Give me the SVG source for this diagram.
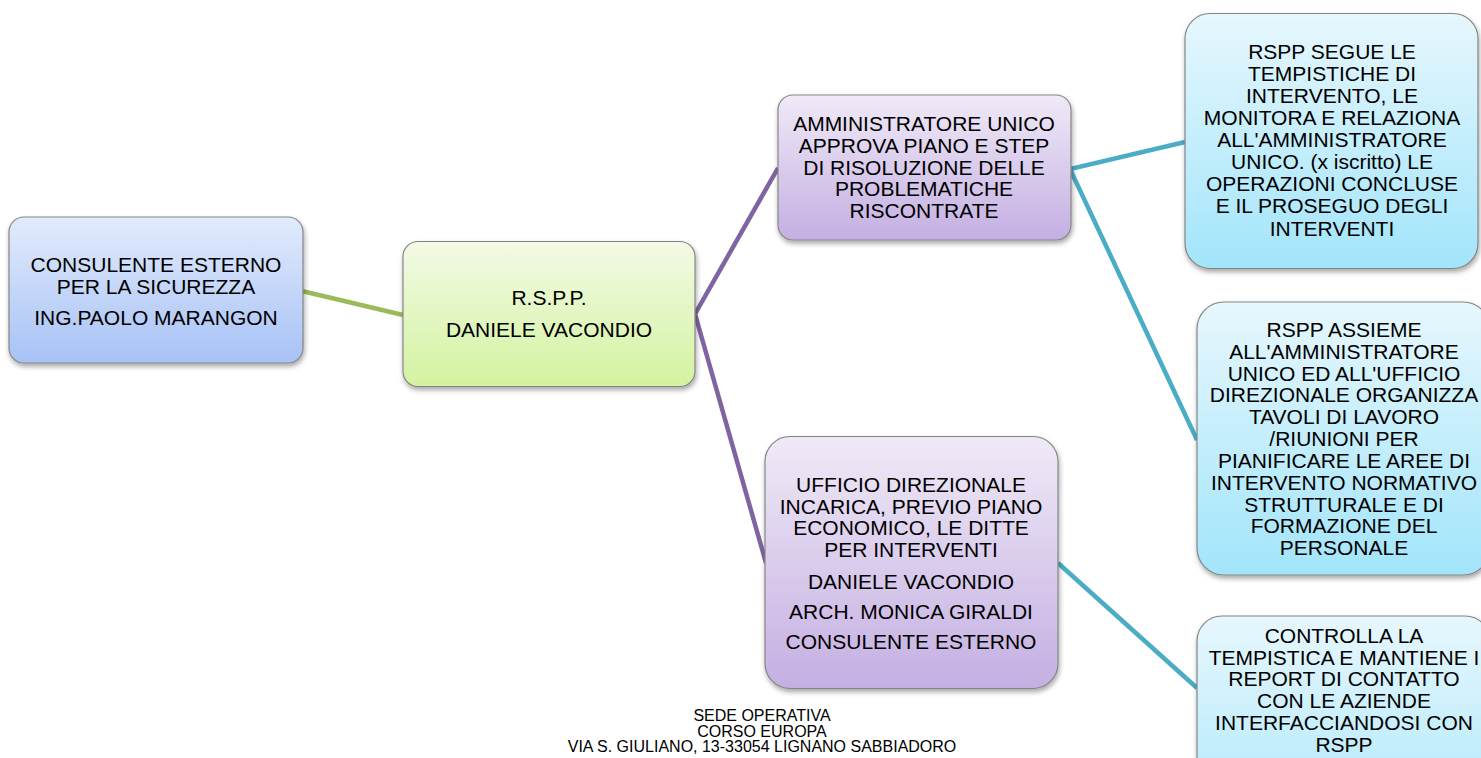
<svg xmlns="http://www.w3.org/2000/svg" width="1481" height="758" viewBox="0 0 1481 758">
<defs>
<linearGradient id="gBlue" x1="0" y1="0" x2="0" y2="1"><stop offset="0" stop-color="#e2ebfc"/><stop offset="1" stop-color="#a7c2f6"/></linearGradient>
<linearGradient id="gGreen" x1="0" y1="0" x2="0" y2="1"><stop offset="0" stop-color="#f3fae6"/><stop offset="1" stop-color="#d3f3a0"/></linearGradient>
<linearGradient id="gPurple" x1="0" y1="0" x2="0" y2="1"><stop offset="0" stop-color="#f0eaf7"/><stop offset="1" stop-color="#c4afe2"/></linearGradient>
<linearGradient id="gCyan" x1="0" y1="0" x2="0" y2="1"><stop offset="0" stop-color="#e7f7fd"/><stop offset="1" stop-color="#a2e5fb"/></linearGradient>
<filter id="sh" x="-10%" y="-10%" width="125%" height="130%"><feDropShadow dx="1" dy="3" stdDeviation="2.5" flood-color="#000" flood-opacity="0.35"/></filter>
</defs>
<style>
.box{stroke:#858585;stroke-width:1.2;filter:url(#sh)}
.t{font-family:"Liberation Sans",Arial,sans-serif;font-size:21px;fill:#000;text-anchor:middle}
.f{font-family:"Liberation Sans",Arial,sans-serif;font-size:16px;fill:#000;text-anchor:middle}
.c{fill:none;stroke-width:4.5;stroke-linecap:butt}
</style>
<g id="connectors">
<line class="c" x1="302" y1="291" x2="403" y2="315" stroke="#9bbb59"/>
<polyline class="c" points="778,168 695,314 766,563" stroke="#8064a2"/>
<polyline class="c" points="1185,142 1070,169 1197,440" stroke="#4bacc6"/>
<line class="c" x1="1058" y1="563" x2="1197" y2="688" stroke="#4bacc6"/>
</g>
<g id="n1">
<rect class="box" x="9" y="217" width="294" height="146" rx="15" fill="url(#gBlue)"/>
<text class="t" x="156" y="272">CONSULENTE ESTERNO</text>
<text class="t" x="156" y="294">PER LA SICUREZZA</text>
<text class="t" x="156" y="325">ING.PAOLO MARANGON</text>
</g>
<g id="n2">
<rect class="box" x="403" y="241.5" width="292" height="145" rx="15" fill="url(#gGreen)"/>
<text class="t" x="549" y="305">R.S.P.P.</text>
<text class="t" x="549" y="337">DANIELE VACONDIO</text>
</g>
<g id="n3">
<rect class="box" x="778" y="95" width="293" height="145" rx="15" fill="url(#gPurple)"/>
<text class="t" x="924" y="131">AMMINISTRATORE UNICO</text>
<text class="t" x="924" y="153">APPROVA PIANO E STEP</text>
<text class="t" x="924" y="174.5">DI RISOLUZIONE DELLE</text>
<text class="t" x="924" y="196">PROBLEMATICHE</text>
<text class="t" x="924" y="218">RISCONTRATE</text>
</g>
<g id="n4">
<rect class="box" x="1185" y="13.5" width="293" height="255" rx="25" fill="url(#gCyan)"/>
<text class="t" x="1332" y="59">RSPP SEGUE LE</text>
<text class="t" x="1332" y="81">TEMPISTICHE DI</text>
<text class="t" x="1332" y="103">INTERVENTO, LE</text>
<text class="t" x="1332" y="125">MONITORA E RELAZIONA</text>
<text class="t" x="1332" y="147">ALL'AMMINISTRATORE</text>
<text class="t" x="1332" y="169">UNICO. (x iscritto) LE</text>
<text class="t" x="1332" y="191">OPERAZIONI CONCLUSE</text>
<text class="t" x="1332" y="213">E IL PROSEGUO DEGLI</text>
<text class="t" x="1332" y="236">INTERVENTI</text>
</g>
<g id="n5">
<rect class="box" x="1197" y="302" width="293" height="273" rx="27" fill="url(#gCyan)"/>
<text class="t" x="1344" y="337">RSPP ASSIEME</text>
<text class="t" x="1344" y="359">ALL'AMMINISTRATORE</text>
<text class="t" x="1344" y="380.5">UNICO ED ALL'UFFICIO</text>
<text class="t" x="1344" y="402">DIREZIONALE ORGANIZZA</text>
<text class="t" x="1344" y="424">TAVOLI DI LAVORO</text>
<text class="t" x="1344" y="446">/RIUNIONI PER</text>
<text class="t" x="1344" y="468">PIANIFICARE LE AREE DI</text>
<text class="t" x="1344" y="490">INTERVENTO NORMATIVO</text>
<text class="t" x="1344" y="511.5">STRUTTURALE E DI</text>
<text class="t" x="1344" y="533">FORMAZIONE DEL</text>
<text class="t" x="1344" y="555">PERSONALE</text>
</g>
<g id="n6">
<rect class="box" x="765" y="436.5" width="293" height="252" rx="25" fill="url(#gPurple)"/>
<text class="t" x="911" y="492">UFFICIO DIREZIONALE</text>
<text class="t" x="911" y="514">INCARICA, PREVIO PIANO</text>
<text class="t" x="911" y="535">ECONOMICO, LE DITTE</text>
<text class="t" x="911" y="557">PER INTERVENTI</text>
<text class="t" x="911" y="589">DANIELE VACONDIO</text>
<text class="t" x="911" y="619">ARCH. MONICA GIRALDI</text>
<text class="t" x="911" y="649">CONSULENTE ESTERNO</text>
</g>
<g id="n7">
<rect class="box" x="1197" y="616" width="293" height="250" rx="25" fill="url(#gCyan)"/>
<text class="t" x="1344" y="643">CONTROLLA LA</text>
<text class="t" x="1344" y="665">TEMPISTICA E MANTIENE I</text>
<text class="t" x="1344" y="686">REPORT DI CONTATTO</text>
<text class="t" x="1344" y="708">CON LE AZIENDE</text>
<text class="t" x="1344" y="730">INTERFACCIANDOSI CON</text>
<text class="t" x="1344" y="752">RSPP</text>
</g>
<g id="footer">
<text class="f" x="762" y="721">SEDE OPERATIVA</text>
<text class="f" x="762" y="736.5">CORSO EUROPA</text>
<text class="f" x="762" y="752">VIA S. GIULIANO, 13-33054 LIGNANO SABBIADORO</text>
</g>
</svg>
